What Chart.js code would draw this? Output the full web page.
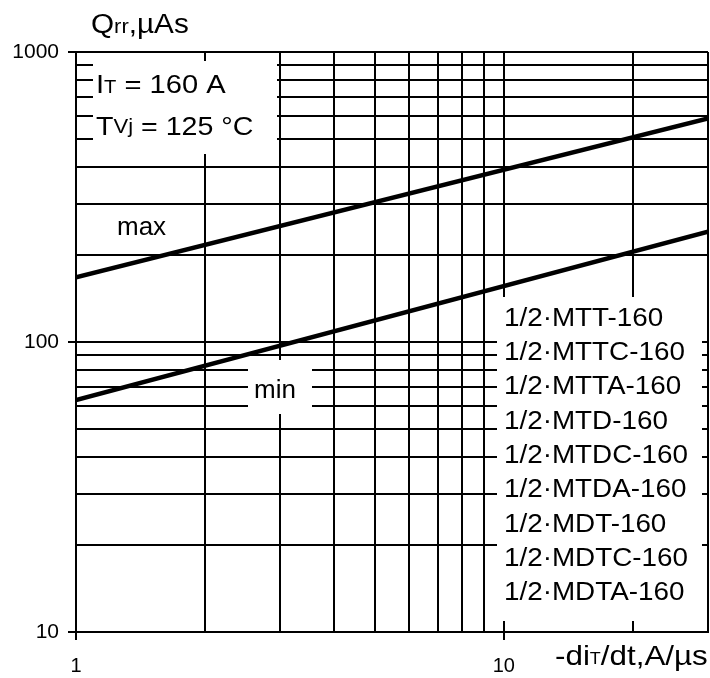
<!DOCTYPE html>
<html>
<head>
<meta charset="utf-8">
<script src="https://cdn.jsdelivr.net/npm/chart.js@4"></script>
<style>
  html, body { margin: 0; padding: 0; background: #fff; }
  canvas { display: block; }
</style>
</head>
<body>
<canvas id="qrrChart" width="710" height="678"></canvas>
<script>
// -di/dt end points of the two straight (log-log) curves
const diDt = [1, 30];
const qrrMax = [167, 590];
const qrrMin = [63, 240];

// grid positions and which of them carry a label
const xTicks = [1, 2, 3, 4, 5, 6, 7, 8, 9, 10, 20, 30];
const yTicks = [10, 20, 30, 40, 50, 60, 70, 80, 90, 100, 200, 300, 400, 500, 600, 700, 800, 900, 1000];
const xLabels = [1, 10];
const yLabels = [10, 100, 1000];

const deviceTypes = [
    '1/2·MTT-160',
    '1/2·MTTC-160',
    '1/2·MTTA-160',
    '1/2·MTD-160',
    '1/2·MTDC-160',
    '1/2·MTDA-160',
    '1/2·MDT-160',
    '1/2·MDTC-160',
    '1/2·MDTA-160'
];

const FONT = '"Liberation Sans", Arial, sans-serif';

const canvas = document.getElementById('qrrChart');
const ctx = canvas.getContext('2d');

// draws a run of text pieces (main text + subscripts), slightly widened
function drawText(c, parts, x, y, sx) {
    c.save();
    c.translate(x, y);
    c.scale(sx, 1);
    let cx = 0;
    parts.forEach(p => {
        c.font = p.size + 'px ' + FONT;
        c.fillText(p.t, cx, p.dy || 0);
        cx += c.measureText(p.t).width;
    });
    c.restore();
}

function whiteBox(c, x1, y1, x2, y2) {
    c.fillStyle = '#fff';
    c.fillRect(x1, y1, x2 - x1, y2 - y1);
}

const overlayPlugin = {
    id: 'overlay',
    beforeDatasetsDraw: (chart) => {
        const c = chart.ctx;
        c.save();
        // boxes that hide the grid behind the notes
        whiteBox(c, 93, 61, 277, 154);
        whiteBox(c, 248, 360, 312, 414);
        whiteBox(c, 497, 297, 702, 621);

        c.fillStyle = '#000';
        c.textAlign = 'left';
        c.textBaseline = 'alphabetic';

        drawText(c, [{t: 'I', size: 26}, {t: 'T', size: 18}, {t: ' = 160 A', size: 26}], 96, 93, 1.12);
        drawText(c, [{t: 'T', size: 26}, {t: 'Vj', size: 20, dy: -2}, {t: ' = 125 °C', size: 26}], 96, 135, 1.1);

        drawText(c, [{t: 'max', size: 26}], 117, 235, 1.0);
        drawText(c, [{t: 'min', size: 26}], 254, 398, 1.0);

        deviceTypes.forEach((name, i) => {
            drawText(c, [{t: name, size: 26}], 504, 325.7 + i * 34.3, 1.07);
        });
        c.restore();
    },
    afterDraw: (chart) => {
        const c = chart.ctx;
        c.save();
        c.fillStyle = '#000';
        c.textAlign = 'left';
        c.textBaseline = 'alphabetic';
        // axis titles
        drawText(c, [{t: 'Q', size: 27}, {t: 'rr', size: 20}, {t: ',µAs', size: 27}], 91, 33, 1.1);
        drawText(c, [{t: '-di', size: 28}, {t: 'T', size: 16, dy: -1}, {t: '/dt,A/µs', size: 28}], 555, 665, 1.12);
        c.restore();
    }
};

const tickColor = (labels) => (context) =>
    context.tick && labels.includes(context.tick.value) ? '#000' : 'rgba(0,0,0,0)';

// keep the plot frame exactly where the layout padding puts it
const noScalePadding = (scale) => {
    scale.paddingLeft = 0;
    scale.paddingRight = 0;
    scale.paddingTop = 0;
    scale.paddingBottom = 0;
};

const toPoints = (ys) => diDt.map((x, i) => ({x: x, y: ys[i]}));

const qrrChart = new Chart(ctx, {
    type: 'line',
    data: {
        datasets: [{
            label: 'max',
            data: toPoints(qrrMax),
            borderColor: '#000',
            borderWidth: 4.5,
            pointRadius: 0,
            fill: false
        }, {
            label: 'min',
            data: toPoints(qrrMin),
            borderColor: '#000',
            borderWidth: 4.5,
            pointRadius: 0,
            fill: false
        }]
    },
    options: {
        responsive: false,
        animation: false,
        layout: {
            padding: {top: 52, right: 2, left: 0, bottom: 0}
        },
        plugins: {
            legend: {display: false},
            tooltip: {enabled: false}
        },
        scales: {
            x: {
                type: 'logarithmic',
                min: 1,
                max: 30,
                afterBuildTicks: (scale) => {
                    scale.ticks = xTicks.map(v => ({value: v}));
                },
                afterFit: (scale) => {
                    scale.height = 46;
                    noScalePadding(scale);
                },
                grid: {
                    color: '#000',
                    lineWidth: 2,
                    tickLength: 8,
                    tickColor: tickColor(xLabels)
                },
                border: {color: '#000', width: 2},
                ticks: {
                    autoSkip: false,
                    maxRotation: 0,
                    padding: 14,
                    color: '#000',
                    font: {family: FONT, size: 20},
                    callback: (value) => xLabels.includes(value) ? String(value) : ''
                }
            },
            y: {
                type: 'logarithmic',
                min: 10,
                max: 1000,
                afterBuildTicks: (scale) => {
                    scale.ticks = yTicks.map(v => ({value: v}));
                },
                afterFit: (scale) => {
                    scale.width = 76;
                    noScalePadding(scale);
                },
                grid: {
                    color: '#000',
                    lineWidth: 2,
                    tickLength: 8,
                    tickColor: tickColor(yLabels)
                },
                border: {color: '#000', width: 2},
                ticks: {
                    autoSkip: false,
                    padding: 9,
                    color: '#000',
                    font: {family: FONT, size: 21},
                    callback: (value) => yLabels.includes(value) ? String(value) : ''
                }
            }
        }
    },
    plugins: [overlayPlugin]
});
</script>
</body>
</html>
